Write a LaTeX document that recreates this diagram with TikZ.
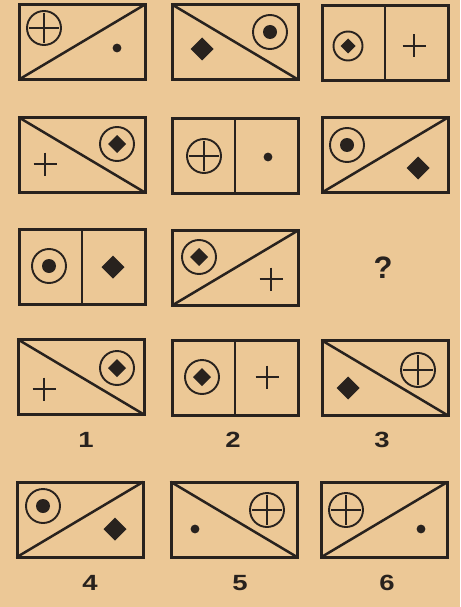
\documentclass[tikz,border=0pt]{standalone}
\usepackage{fontspec}
\setsansfont{Liberation Sans}
\definecolor{paper}{RGB}{236,200,150}
\definecolor{ink}{RGB}{40,34,30}
\newcommand\symCP[2]{%
  \draw[sym] (#1,#2) circle[radius=17];
  \draw[sym,line width=2.2pt] (#1-15,#2) -- (#1+15,#2) (#1,#2-15) -- (#1,#2+15);}
\newcommand\symBE[2]{%
  \draw[sym] (#1,#2) circle[radius=17];
  \fill[ink] (#1,#2) circle[radius=7];}
\newcommand\symCD[4]{% x y radius diamond-half
  \draw[sym] (#1,#2) circle[radius=#3];
  \fill[ink] (#1-#4,#2) -- (#1,#2-#4) -- (#1+#4,#2) -- (#1,#2+#4) -- cycle;}
\newcommand\symDM[2]{%
  \fill[ink] (#1-11.5,#2) -- (#1,#2-11.5) -- (#1+11.5,#2) -- (#1,#2+11.5) -- cycle;}
\newcommand\symDT[2]{\fill[ink] (#1,#2) circle[radius=4.4];}
\newcommand\symPL[2]{%
  \draw[ink,line width=2.2pt] (#1-11.5,#2) -- (#1+11.5,#2) (#1,#2-11.5) -- (#1,#2+11.5);}
\tikzset{
  box/.style={draw=ink,line width=3pt,rectangle,minimum width=126pt,minimum height=75pt,inner sep=0pt,outer sep=0pt},
  diag/.style={draw=ink,line width=2.5pt,line cap=round},
  sym/.style={draw=ink,line width=1.9pt},
  lbl/.style={font=\sffamily\bfseries\fontsize{22}{22}\selectfont,text=ink,xscale=1.25,inner sep=0pt},
  qm/.style={font=\sffamily\bfseries\fontsize{31}{31}\selectfont,text=ink,inner sep=0pt}
}
\begin{document}
\begin{tikzpicture}[x=1pt,y=-1pt]
\fill[paper] (0,0) rectangle (460,607);
\useasboundingbox (0,0) rectangle (460,607);
% row 1
\node[box] (a1) at (82,42) {};
\node[box] (a2) at (235,42) {};
\node[box] (a3) at (385,43) {};
\draw[diag] (a1.south west) -- (a1.north east);
\draw[diag] (a2.north west) -- (a2.south east);
\draw[diag] (a3.north) -- (a3.south);
\symCP{44}{28} \symDT{117}{48}
\symBE{270}{32} \symDM{202}{49}
\symCD{348}{46}{14.5}{7.5} \symPL{414}{46}
% row 2
\node[box] (b1) at (82,155) {};
\node[box] (b2) at (235,156) {};
\node[box] (b3) at (385,155) {};
\draw[diag] (b1.north west) -- (b1.south east);
\draw[diag] (b2.north) -- (b2.south);
\draw[diag] (b3.south west) -- (b3.north east);
\symCD{117}{144}{17}{9} \symPL{45}{164}
\symCP{204}{156} \symDT{268}{157}
\symBE{347}{145} \symDM{418}{168}
% row 3
\node[box] (c1) at (82,267) {};
\node[box] (c2) at (235,268) {};
\draw[diag] (c1.north) -- (c1.south);
\draw[diag] (c2.south west) -- (c2.north east);
\symBE{49}{266} \symDM{113}{267}
\symCD{199}{257}{17}{9} \symPL{271}{279}
\node[qm] (q) at (383,268) {?};
% row 4
\node[box] (d1) at (81,377) {};
\node[box] (d2) at (235,378) {};
\node[box] (d3) at (385,378) {};
\draw[diag] (d1.north west) -- (d1.south east);
\draw[diag] (d2.north) -- (d2.south);
\draw[diag] (d3.north west) -- (d3.south east);
\symCD{117}{368}{17}{9} \symPL{44}{389}
\symCD{202}{377}{17}{9} \symPL{267}{377}
\symCP{418}{370} \symDM{348}{388}
\node[lbl] (n1) at (86,440) {1};
\node[lbl] (n2) at (233,440) {2};
\node[lbl] (n3) at (382,440) {3};
% row 5
\node[box] (e1) at (80,519.5) {};
\node[box] (e2) at (234,519.5) {};
\node[box] (e3) at (384.5,519.5) {};
\draw[diag] (e1.south west) -- (e1.north east);
\draw[diag] (e2.north west) -- (e2.south east);
\draw[diag] (e3.south west) -- (e3.north east);
\symBE{43}{506} \symDM{115}{529}
\symCP{267}{510} \symDT{195}{529}
\symCP{346}{510} \symDT{421}{529}
\node[lbl] (n4) at (90,583) {4};
\node[lbl] (n5) at (240,583) {5};
\node[lbl] (n6) at (387,583) {6};
\end{tikzpicture}
\end{document}
